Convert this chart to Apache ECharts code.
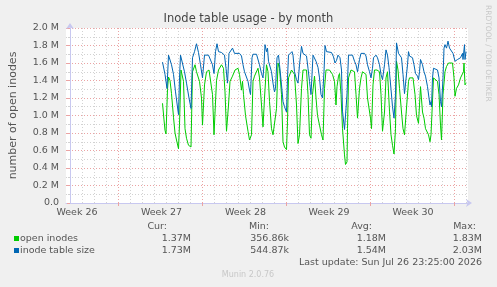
<!DOCTYPE html>
<html>
<head>
<meta charset="utf-8">
<script src="https://cdn.jsdelivr.net/npm/echarts@6.0.0/dist/echarts.min.js"></script>
<style>
  html, body { margin: 0; padding: 0; background: #f0f0f0; }
  #chart { width: 497px; height: 287px; }
</style>
</head>
<body>
<div id="chart"></div>
<script>
// time axis in hours, 0 = first day line inside the graph
const weekLines = [96, 264, 432, 600, 768];
const weekMids = [14, 183, 351, 518, 686];
const weekLabels = ['Week 26', 'Week 27', 'Week 28', 'Week 29', 'Week 30'];

// open inodes (millions)
const greenHours = [
  185, 188, 190, 192, 195, 197, 200, 203, 207, 210,
  213, 217, 219, 222, 225, 227, 230, 233, 237, 242,
  245, 247, 250, 253, 259, 263, 265, 269, 273, 278,
  282, 285, 288, 291, 293, 297, 303, 307, 310, 313,
  317, 320, 325, 330, 336, 339, 343, 345, 347, 351,
  356, 359, 363, 366, 369, 376, 379, 383, 386, 389,
  393, 396, 399, 403, 406, 409, 413, 416, 419, 423,
  426, 429, 433, 435, 437, 443, 446, 449, 453, 456,
  459, 463, 466, 469, 473, 476, 479, 482, 485, 489,
  492, 495, 499, 503, 506, 509, 512, 515, 519, 522,
  525, 529, 532, 534, 537, 539, 542, 545, 549, 551,
  554, 555, 557, 562, 565, 569, 572, 575, 579, 582,
  585, 589, 592, 595, 601, 603, 606, 609, 614, 619,
  622, 625, 629, 632, 635, 639, 642, 645, 648, 650,
  651, 653, 656, 659, 663, 666, 669, 673, 677, 679,
  683, 686, 690, 693, 697, 699, 701, 705, 708, 711,
  717, 720, 722, 725, 727, 731, 735, 738, 741, 743,
  746, 750, 753, 757, 761, 765, 768, 770, 773, 777,
  781, 785, 787, 788, 790, 792
];
const greenValues = [
  1.14, 0.95, 0.83, 0.79, 1.30, 1.44, 1.40, 1.25, 0.98, 0.80,
  0.72, 0.62, 0.90, 1.52, 1.50, 1.39, 0.85, 0.74, 0.66, 0.64,
  1.50, 1.52, 1.58, 1.50, 1.39, 1.20, 0.89, 1.35, 1.50, 1.52,
  1.50, 1.24, 0.78, 0.78, 1.40, 1.52, 1.58, 1.54, 1.27, 0.82,
  1.12, 1.39, 1.45, 1.52, 1.54, 1.47, 1.29, 1.39, 1.24, 1.00,
  0.82, 0.72, 0.78, 1.39, 1.45, 1.54, 1.43, 1.12, 0.87, 1.20,
  1.58, 1.50, 1.16, 0.85, 0.78, 0.76, 1.08, 1.60, 1.54, 1.24,
  0.70, 0.64, 0.61, 0.93, 1.43, 1.52, 1.50, 1.47, 1.12, 0.68,
  0.78, 1.31, 1.52, 1.54, 1.52, 1.24, 0.78, 0.74, 1.24, 1.45,
  1.20, 1.00, 0.89, 0.78, 0.72, 1.31, 1.52, 1.54, 1.52, 1.54,
  1.47, 1.39, 1.12, 1.33, 1.45, 1.48, 1.24, 0.85, 0.55, 0.44,
  0.47, 0.85, 1.43, 1.52, 1.53, 1.50, 1.24, 0.97, 1.31, 1.43,
  1.50, 1.52, 1.47, 1.20, 0.97, 0.85, 1.35, 1.52, 1.52, 1.50,
  1.24, 0.82, 1.04, 1.43, 1.50, 1.05, 0.78, 0.66, 0.56, 0.55,
  0.85, 1.62, 1.52, 1.31, 1.04, 0.85, 0.78, 0.80, 1.39, 1.43,
  1.41, 1.43, 1.24, 1.00, 0.91, 0.89, 1.33, 1.04, 0.97, 0.85,
  0.78, 0.70, 0.78, 0.78, 1.43, 1.41, 1.39, 1.24, 0.89, 0.72,
  1.24, 1.50, 1.56, 1.60, 1.62, 1.60, 1.43, 1.22, 1.31, 1.35,
  1.43, 1.45, 1.50, 1.60, 1.35, 1.37
];

// inode table size (millions)
const blueHours = [
  185, 190, 194, 197, 200, 203, 207, 211, 217, 219,
  221, 225, 229, 233, 238, 242, 244, 245, 249, 253,
  257, 261, 265, 269, 277, 281, 285, 288, 291, 294,
  297, 303, 309, 312, 315, 318, 322, 325, 329, 339,
  343, 346, 349, 353, 356, 359, 361, 364, 366, 373,
  376, 379, 383, 386, 388, 390, 393, 395, 397, 399,
  403, 406, 409, 411, 414, 417, 419, 423, 426, 429,
  433, 435, 437, 441, 444, 446, 449, 453, 456, 459,
  463, 466, 469, 473, 476, 479, 482, 486, 490, 492,
  496, 499, 502, 505, 508, 510, 513, 523, 527, 530,
  533, 536, 540, 543, 545, 549, 552, 554, 557, 561,
  565, 569, 572, 575, 579, 582, 589, 592, 595, 599,
  602, 605, 607, 612, 615, 619, 622, 625, 629, 632,
  635, 638, 642, 645, 648, 651, 653, 657, 661, 663,
  666, 669, 673, 675, 677, 679, 682, 685, 688, 691,
  695, 697, 699, 701, 705, 708, 711, 715, 718, 720,
  722, 723, 725, 727, 731, 735, 738, 741, 743, 746,
  748, 750, 753, 756, 759, 763, 766, 770, 775, 778,
  781, 785, 786, 789, 790, 792
];
const blueValues = [
  1.61, 1.47, 1.31, 1.69, 1.68, 1.58, 1.47, 1.27, 1.01, 1.43,
  1.69, 1.69, 1.50, 1.37, 1.20, 1.08, 1.08, 1.66, 1.73, 1.82,
  1.72, 1.58, 1.43, 1.69, 1.69, 1.68, 1.58, 1.48, 1.73, 1.82,
  1.73, 1.72, 1.69, 1.54, 1.37, 1.71, 1.72, 1.77, 1.71, 1.71,
  1.68, 1.58, 1.50, 1.48, 1.39, 1.29, 1.24, 1.66, 1.70, 1.70,
  1.68, 1.58, 1.48, 1.43, 1.58, 1.81, 1.73, 1.77, 1.62, 1.60,
  1.50, 1.37, 1.27, 1.31, 1.66, 1.69, 1.58, 1.35, 1.16, 1.10,
  1.04, 1.43, 1.69, 1.71, 1.73, 1.69, 1.50, 1.41, 1.37, 1.58,
  1.79, 1.71, 1.73, 1.68, 1.54, 1.39, 1.24, 1.69, 1.68, 1.62,
  1.55, 1.43, 1.24, 1.20, 1.50, 1.80, 1.73, 1.72, 1.67, 1.60,
  1.63, 1.69, 1.66, 1.52, 1.05, 0.84, 0.82, 1.24, 1.69, 1.71,
  1.69, 1.62, 1.58, 1.50, 1.64, 1.71, 1.71, 1.68, 1.58, 1.50,
  1.43, 1.54, 1.66, 1.69, 1.66, 1.58, 1.47, 1.41, 1.58, 1.75,
  1.69, 1.55, 1.30, 1.10, 0.97, 1.24, 1.83, 1.71, 1.69, 1.66,
  1.47, 1.25, 1.27, 1.58, 1.73, 1.68, 1.69, 1.66, 1.58, 1.48,
  1.45, 1.41, 1.50, 1.64, 1.58, 1.50, 1.45, 1.33, 1.20, 1.12,
  1.16, 1.10, 1.43, 1.54, 1.54, 1.52, 1.43, 1.16, 1.10, 1.43,
  1.77, 1.81, 1.77, 1.85, 1.77, 1.75, 1.71, 1.62, 1.64, 1.62,
  1.66, 1.71, 1.64, 1.81, 1.64, 1.73
];

// legend table
const legendNames = ['open inodes', 'inode table size'];
const legendColors = ['#00cc00', '#0066b3'];
const statHeads = ['Cur:', 'Min:', 'Avg:', 'Max:'];
const curVals = ['1.37M', '1.73M'];
const minVals = ['356.86k', '544.87k'];
const avgVals = ['1.18M', '1.54M'];
const maxVals = ['1.83M', '2.03M'];

const FONT = 'DejaVu Sans';
const TEXT = '#555';
const MAJOR = '#eba3a3';
const MINOR = '#d2d2d2';
const AXIS = '#c8c8f0';

const dayLines = [];
for (let h = 0; h <= 792; h += 24) dayLines.push(h);

const pair = (xs, ys) => xs.map((x, i) => [x, ys[i]]);

const txt = (x, y, text, opts) => ({
  type: 'text', x: x, y: y, silent: true,
  style: Object.assign({
    text: text, fill: TEXT, fontSize: 9.5, fontFamily: FONT,
    textAlign: 'left', align: 'left', textVerticalAlign: 'middle', verticalAlign: 'middle'
  }, opts || {})
});

const graphics = [];
const headRight = [167, 269, 372, 476];
const valRight = [191, 289, 386, 482];
statHeads.forEach((s, i) => graphics.push(txt(headRight[i], 227, s, { textAlign: 'right', align: 'right' })));
legendNames.forEach((name, r) => {
  const y = 239 + r * 12;
  graphics.push({ type: 'rect', shape: { x: 14, y: y - 3, width: 5, height: 5 }, style: { fill: legendColors[r] } });
  graphics.push(txt(20, y, name));
  [curVals, minVals, avgVals, maxVals].forEach((col, c) =>
    graphics.push(txt(valRight[c], y, col[r], { textAlign: 'right', align: 'right' })));
});
graphics.push(txt(482, 263, 'Last update: Sun Jul 26 23:25:00 2026', { textAlign: 'right', align: 'right' }));
graphics.push(txt(248, 275, 'Munin 2.0.76', { fill: '#c8c8c8', fontSize: 8, textAlign: 'center', align: 'center' }));
graphics.push(Object.assign(txt(488, 5, 'RRDTOOL / TOBI OETIKER', { fill: '#c8c8c8', fontSize: 7.5 }), { rotation: -Math.PI / 2 }));

const myChart = echarts.init(document.getElementById('chart'));

const option = {
  backgroundColor: '#f0f0f0',
  animation: false,
  textStyle: { fontFamily: FONT },
  title: {
    text: 'Inode table usage - by month',
    left: 'center',
    top: 13,
    padding: 0,
    textStyle: { fontSize: 11.5, fontWeight: 'normal', color: '#444', fontFamily: FONT }
  },
  grid: { left: 66, right: 29, top: 28, bottom: 84, show: true, backgroundColor: '#ffffff', borderWidth: 0 },
  xAxis: [
    {
      // daily minor grid
      type: 'value', min: -8, max: 796, position: 'bottom',
      axisLine: { show: false },
      axisTick: { show: false, customValues: dayLines },
      axisLabel: { show: false },
      splitLine: { show: true, lineStyle: { color: MINOR, type: [1, 2] } }
    },
    {
      // weekly major grid + labels
      type: 'value', min: -8, max: 796, position: 'bottom', offset: 0,
      axisLine: {
        show: true, onZero: false, lineStyle: { color: AXIS },
        symbol: ['none', 'arrow'], symbolSize: [6, 6], symbolOffset: [0, 4]
      },
      axisTick: { show: true, customValues: weekLines, length: 3, lineStyle: { color: MAJOR } },
      axisLabel: {
        customValues: weekMids,
        formatter: (v) => weekLabels[weekMids.indexOf(v)],
        color: TEXT, fontSize: 9.5, margin: 5, fontFamily: FONT
      },
      splitLine: { show: true, lineStyle: { color: MAJOR, type: [1, 2] } }
    }
  ],
  yAxis: {
    type: 'value', min: 0, max: 2, interval: 0.2,
    axisLine: {
      show: true, lineStyle: { color: AXIS },
      symbol: ['none', 'arrow'], symbolSize: [6, 6], symbolOffset: [0, 5]
    },
    axisTick: { show: true, length: 3, lineStyle: { color: MAJOR } },
    minorTick: { show: true, splitNumber: 2, length: 2, lineStyle: { color: MINOR } },
    axisLabel: {
      formatter: (v) => (v === 0 ? '0.0' : v.toFixed(1) + ' M'),
      color: TEXT, fontSize: 9.5, margin: 7, fontFamily: FONT
    },
    splitLine: { show: true, lineStyle: { color: MAJOR, type: [1, 2] } },
    minorSplitLine: { show: true, lineStyle: { color: MINOR, type: [1, 2] } },
    name: 'number of open inodes',
    nameLocation: 'middle',
    nameGap: 47,
    nameTextStyle: { color: TEXT, fontSize: 11, fontFamily: FONT }
  },
  series: [
    {
      name: 'open inodes', type: 'line', xAxisIndex: 0,
      data: pair(greenHours, greenValues),
      showSymbol: false, z: 3,
      lineStyle: { width: 1, color: legendColors[0] },
      itemStyle: { color: legendColors[0] }
    },
    {
      name: 'inode table size', type: 'line', xAxisIndex: 0,
      data: pair(blueHours, blueValues),
      showSymbol: false, z: 4,
      lineStyle: { width: 1, color: legendColors[1] },
      itemStyle: { color: legendColors[1] }
    }
  ],
  graphic: graphics
};

myChart.setOption(option);
</script>
</body>
</html>
